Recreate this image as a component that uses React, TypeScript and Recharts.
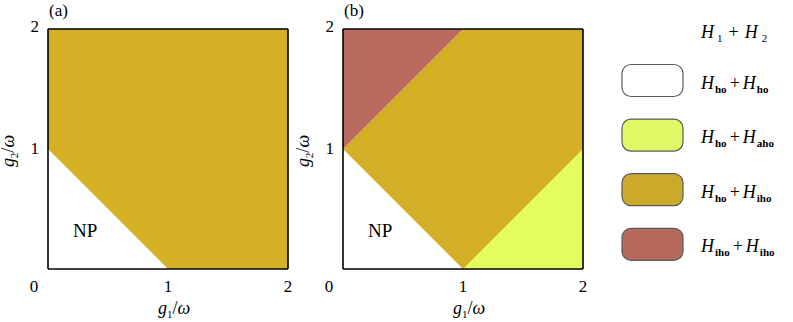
import React from 'react';
import { ComposedChart, Area, XAxis, YAxis, ReferenceDot } from 'recharts';

// g1/ω grid where the phase boundaries bend
const g1Grid = [0, 1, 2];

// panel (a): stacked band heights along g2/ω
const aNP = [1, 0, 0];
const aIho = [1, 2, 2];

// panel (b)
const bNP = [1, 0, 0];
const bAho = [0, 0, 1];
const bIho = [0, 2, 1];
const bIhoIho = [1, 0, 0];

const xTicks = [0, 1, 2];
const yTicks = [1, 2];
const minorTicks = [0.5, 1, 1.5];

const legendFills = ['#ffffff', '#e1f765', '#cba92b', '#b5695d'];
const legendSubs = [
    ['ho', 'ho'],
    ['ho', 'aho'],
    ['ho', 'iho'],
    ['iho', 'iho'],
];

const GOLD = '#d5b026';
const YELLOW = '#e4fc5e';
const RED = '#ba6b5f';

const FONT = '"Liberation Serif", "DejaVu Serif", serif';

const aData = g1Grid.map((g, i) => ({ g1: g, np: aNP[i], iho: aIho[i] }));
const bData = g1Grid.map((g, i) => ({
    g1: g,
    np: bNP[i],
    aho: bAho[i],
    iho: bIho[i],
    ihoiho: bIhoIho[i],
}));

const XTick = (props: any) => {
    const { x, y, payload } = props;
    const dx = payload.value === 0 ? -14 : 0;
    return (
        <text x={x + dx} y={y + 15} textAnchor="middle" fontSize={17} fontFamily={FONT} fill="#000">
            {payload.value}
        </text>
    );
};

const YTick = (props: any) => {
    const { x, y, payload } = props;
    const dy = payload.value === 2 ? 3 : 5;
    return (
        <text x={x - 1} y={y + dy} textAnchor="end" fontSize={17} fontFamily={FONT} fill="#000">
            {payload.value}
        </text>
    );
};

const XTitle = (props: any) => {
    const vb = props.viewBox;
    return (
        <text x={vb.x + vb.width / 2 + 6} y={vb.y + 45} textAnchor="middle" fontSize={18} fontFamily={FONT} fill="#000">
            <tspan fontStyle="italic">g</tspan>
            <tspan fontSize={11} dy={4}>1</tspan>
            <tspan dy={-4}>/</tspan>
            <tspan fontStyle="italic">ω</tspan>
        </text>
    );
};

const YTitle = (props: any) => {
    const vb = props.viewBox;
    const cx = vb.x + vb.width - 34;
    const cy = vb.y + vb.height / 2 + 2;
    return (
        <text x={cx} y={cy} transform={`rotate(-90, ${cx}, ${cy})`} textAnchor="middle" fontSize={18} fontFamily={FONT} fill="#000">
            <tspan fontStyle="italic">g</tspan>
            <tspan fontSize={11} dy={4}>2</tspan>
            <tspan dy={-4}>/</tspan>
            <tspan fontStyle="italic">ω</tspan>
        </text>
    );
};

const frame = { stroke: '#000', strokeWidth: 1.6 };

const Panel = ({ data, bands }: { data: any[]; bands: { key: string; fill: string }[] }) => (
    <ComposedChart width={300} height={322} data={data} margin={{ top: 29, left: 18, right: 12, bottom: 23 }}>
        {bands.map((b) => (
            <Area
                key={b.key}
                xAxisId="x"
                yAxisId="y"
                type="linear"
                dataKey={b.key}
                stackId="phase"
                stroke="none"
                fill={b.fill}
                fillOpacity={1}
                dot={false}
                activeDot={false}
                isAnimationActive={false}
            />
        ))}
        <ReferenceDot
            xAxisId="x"
            yAxisId="y"
            x={0.31}
            y={0.32}
            r={0}
            fill="none"
            stroke="none"
            label={{ value: 'NP', position: 'center', fontSize: 19, fontFamily: FONT, fill: '#000' }}
        />
        <XAxis
            xAxisId="x"
            type="number"
            dataKey="g1"
            domain={[0, 2]}
            ticks={xTicks}
            height={30}
            axisLine={frame}
            tickLine={false}
            tick={<XTick />}
            label={XTitle}
        />
        <XAxis xAxisId="xin" type="number" dataKey="g1" domain={[0, 2]} ticks={minorTicks} mirror axisLine={false} tick={false} tickSize={4} tickLine={{ stroke: '#000' }} />
        <XAxis xAxisId="top" orientation="top" type="number" dataKey="g1" domain={[0, 2]} ticks={minorTicks} mirror axisLine={frame} tick={false} tickSize={4} tickLine={{ stroke: '#000' }} />
        <YAxis
            yAxisId="y"
            type="number"
            domain={[0, 2]}
            ticks={yTicks}
            width={30}
            axisLine={frame}
            tickLine={false}
            tick={<YTick />}
            label={YTitle}
        />
        <YAxis yAxisId="yin" type="number" domain={[0, 2]} ticks={minorTicks} mirror axisLine={false} tick={false} tickSize={4} tickLine={{ stroke: '#000' }} />
        <YAxis yAxisId="right" orientation="right" type="number" domain={[0, 2]} ticks={minorTicks} mirror axisLine={frame} tick={false} tickSize={4} tickLine={{ stroke: '#000' }} />
    </ComposedChart>
);

const Legend = () => (
    <svg width={183} height={270} style={{ position: 'absolute', left: 610, top: 0 }}>
        <text x={91} y={38} fontSize={18} fontFamily={FONT} fill="#000">
            <tspan fontStyle="italic">H</tspan>
            <tspan fontSize={11} dx={3} dy={4}>1</tspan>
            <tspan dx={6} dy={-4}>+</tspan>
            <tspan fontStyle="italic" dx={6}>H</tspan>
            <tspan fontSize={11} dx={4} dy={4}>2</tspan>
        </text>
        {legendFills.map((fill, i) => {
            const top = 64.5 + i * 54.6;
            return (
                <g key={i}>
                    <rect x={12} y={top} width={61} height={32} rx={9} fill={fill} stroke="#5a5a5a" strokeWidth={1.2} />
                    <text x={91} y={top + 24} fontSize={18} fontFamily={FONT} fill="#000">
                        <tspan fontStyle="italic">H</tspan>
                        <tspan fontSize={11} fontWeight="bold" dx={1} dy={4}>{legendSubs[i][0]}</tspan>
                        <tspan dx={3} dy={-4}>+</tspan>
                        <tspan fontStyle="italic" dx={3}>H</tspan>
                        <tspan fontSize={11} fontWeight="bold" dx={1} dy={4}>{legendSubs[i][1]}</tspan>
                    </text>
                </g>
            );
        })}
    </svg>
);

const panelLabel: React.CSSProperties = { position: 'absolute', top: 1, fontSize: 17, fontFamily: FONT };

export default function App() {
    return (
        <div style={{ position: 'absolute', left: 0, top: 0, width: 793, height: 322, background: '#fff', overflow: 'hidden' }}>
            <div style={{ position: 'absolute', left: 0, top: 0 }}>
                <Panel data={aData} bands={[{ key: 'np', fill: '#ffffff' }, { key: 'iho', fill: GOLD }]} />
            </div>
            <div style={{ position: 'absolute', left: 295, top: 0 }}>
                <Panel
                    data={bData}
                    bands={[
                        { key: 'np', fill: '#ffffff' },
                        { key: 'aho', fill: YELLOW },
                        { key: 'iho', fill: GOLD },
                        { key: 'ihoiho', fill: RED },
                    ]}
                />
            </div>
            <div style={{ ...panelLabel, left: 49 }}>(a)</div>
            <div style={{ ...panelLabel, left: 344 }}>(b)</div>
            <Legend />
        </div>
    );
}
